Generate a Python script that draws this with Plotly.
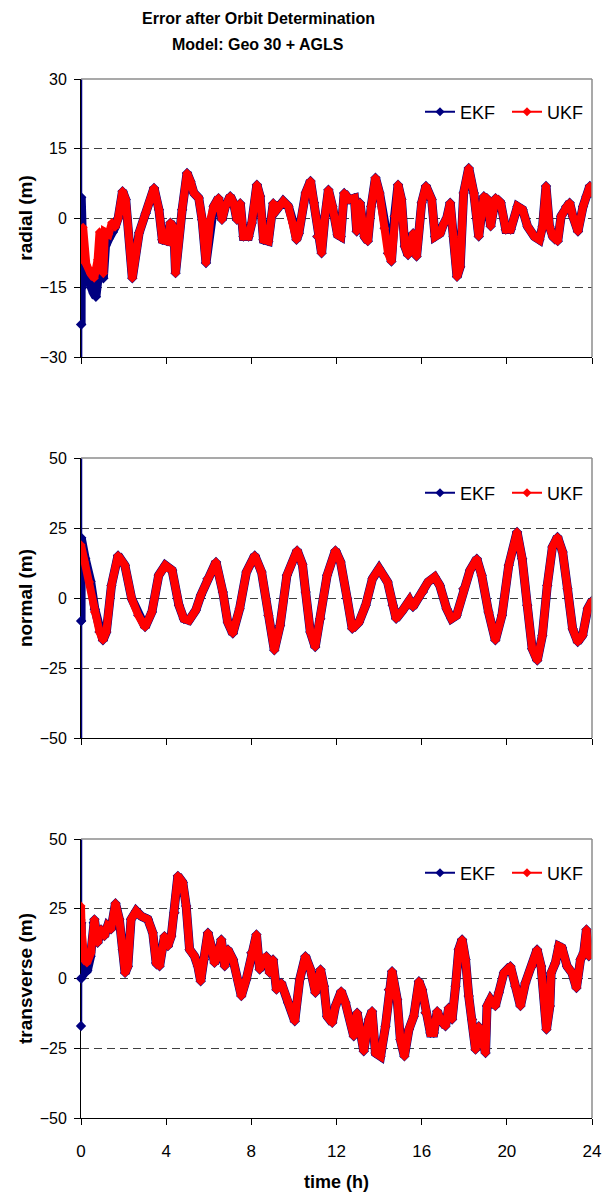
import plotly.graph_objects as go

# ---------------- data ----------------
time_ticks = [0, 4, 8, 12, 16, 20, 24]

# radial
t_radial = [0.0, 0.03, 0.1, 0.25, 0.45, 0.62, 0.78, 0.87, 0.95, 1.05, 1.12, 1.3, 1.45, 1.6, 1.75,
            1.95, 2.1, 2.41, 2.73, 3.04, 3.43, 3.66, 3.82, 4.05, 4.2, 4.36, 4.44, 4.75, 4.98, 5.14,
            5.3, 5.53, 5.69, 5.87, 6.07, 6.23, 6.46, 6.62, 6.78, 7.01, 7.17, 7.32, 7.48, 7.63, 7.87,
            8.02, 8.26, 8.41, 8.57, 8.8, 9.03, 9.19, 9.5, 9.74, 9.97, 10.12, 10.23, 10.55, 10.78,
            10.94, 11.1, 11.3, 11.46, 11.62, 11.81, 12.05, 12.2, 12.36, 12.6, 12.84, 12.95, 13.1,
            13.31, 13.47, 13.63, 13.83, 14.02, 14.26, 14.42, 14.58, 14.73, 14.89, 15.05, 15.21,
            15.36, 15.6, 15.76, 16.0, 16.2, 16.47, 16.63, 16.87, 17.02, 17.18, 17.34, 17.5, 17.66,
            17.81, 17.97, 18.21, 18.45, 18.68, 18.92, 19.08, 19.24, 19.47, 19.71, 19.95, 20.18,
            20.5, 20.74, 20.97, 21.29, 21.53, 21.68, 21.84, 22.0, 22.16, 22.39, 22.55, 22.79,
            22.95, 23.1, 23.34, 23.58, 23.74, 23.9, 24.0]
ukf_radial = [-4, -9, -2, -10, -12, -13, -9, -3, -10, -12, -3, -3.5, -1, -2, 0,
              5.8, 4, -13, -3.2, 1, 6.5, 1.8, -4.7, -5, -1, -2.2, -11.9, 1.8, 9.7, 7.9,
              5.4, 4.3, -0.4, -9.7, -0.4, 2.5, 4.3, -0.4, 2.5, 4.7, 3.2, -0.4, 3.2, -4, -4,
              -1.1, 7.2, 4.7, -4.7, -5, 3.2, 1.8, 3.6, 2.5, -1.1, -4.7, -3.3, 5.4, 8,
              3.3, -4, -7.6, 0.4, 6.1, 2.5, -3.6, -4, 5.4, 4, 4.3, -2.9, 3.3,
              -4, -5, 2.5, 8.7, 5.4, -2.2, -7.6, -9.4, 0.4, 7.2, 4, -6.1,
              -8, -3.3, -8.3, 3.3, 6.9, 4, -4, -3.3, -1.4, 0, 3.3, -4, -12.7,
              -10.5, 5.4, 10.8, 5.4, -4, 4.7, 4, -1.8, 4.3, 3.3, -2.5, -2.5,
              2.5, 1.8, -1.8, -4, -4.7, -1.8, 6.9, -1.8, -4, -5, 0.4, 2.5,
              3.3, 0.4, -2.9, 2.5, 4.7, 6.9, 5.4]
# EKF start-up transient (first values off scale), afterwards it follows the UKF values
t_radial_ekf_start = [0.0, 0.0, 0.005, 0.01, 0.05, 0.1, 0.2, 0.4, 0.59, 0.7, 0.8, 0.9, 1.05, 1.15, 1.3, 1.5]
ekf_radial_start = [60, -60, -23, 4.5, -15, -10, -13, -14, -16.2, -17, -13, -6, -13, -6, -4.5, -3]

# normal
t_normal = [0, 0.16, 0.4, 0.63, 0.87, 1.03, 1.19, 1.43, 1.74, 2.06, 2.38, 2.69, 3.01, 3.33, 3.65,
            3.96, 4.28, 4.6, 4.83, 5.07, 5.39, 5.63, 5.94, 6.34, 6.66, 6.89, 7.13, 7.45, 7.77,
            8.16, 8.48, 8.8, 9.08, 9.35, 9.67, 10.15, 10.4, 10.55, 10.77, 11.0, 11.24, 11.56,
            11.95, 12.19, 12.5, 12.74, 13.06, 13.37, 13.69, 14.0, 14.4, 14.64, 14.8, 15.11,
            15.43, 15.59, 15.82, 16.06, 16.3, 16.61, 16.85, 17.17, 17.4, 17.64, 17.96, 18.27,
            18.59, 18.82, 19.14, 19.46, 19.77, 20.09, 20.48, 20.72, 20.96, 21.19, 21.43, 21.67,
            21.9, 22.14, 22.38, 22.62, 22.85, 23.09, 23.33, 23.56, 23.8, 24.0]
ukf_normal = [19, 12.9, 5.7, -5, -12.1, -15.1, -12.1, 4.5, 15.2, 11.7, -0.2, -6.2, -10.4, -5, 8.1,
              11.7, 9.9, -2.6, -7.4, -8, -4.4, 1, 6.9, 12.9, 2.1, -8.6, -12.7, -3.8, 9.3,
              15.2, 9.3, -6.2, -18.7, -9.8, 8.1, 17, 12, 2.1, -12.1, -17.5, -7.4, 8.1,
              17, 12.9, -0.2, -11, -8.6, -2.6, 6.9, 10.5, 5.7, -2.6, -7.4, -4.4,
              -0.8, -3.2, -0.2, 2.1, 5.7, 7.5, 4.5, -3.8, -7.4, -6.2, 3.3, 9.9,
              14, 8.1, -5, -15.1, -6.2, 11.7, 23.6, 14, -2.6, -18.1, -22.3, -13.3,
              4.5, 18.2, 21.8, 16.4, 3.3, -11, -15.7, -13.3, -3.8, -1]
t_normal_ekf_start = [0.0, 0.0, 0.003, 0.006, 0.01, 0.2, 0.45, 0.65]
ekf_normal_start = [80, -80, -8.2, 11, 21.5, 14, 6, -4]

# transverse
t_transverse = [0, 0.01, 0.03, 0.16, 0.28, 0.47, 0.63, 0.78, 0.94, 1.1, 1.25, 1.41, 1.62, 1.8,
                1.96, 2.07, 2.2, 2.35, 2.59, 2.82, 3.14, 3.37, 3.53, 3.69, 3.92, 4.08, 4.24,
                4.39, 4.55, 4.78, 4.94, 5.1, 5.33, 5.49, 5.62, 5.77, 5.96, 6.12, 6.27, 6.43,
                6.59, 6.75, 6.9, 7.14, 7.37, 7.53, 7.76, 8.0, 8.24, 8.39, 8.55, 8.71, 8.86,
                9.02, 9.18, 9.41, 9.73, 10.04, 10.27, 10.54, 10.78, 11.01, 11.25, 11.41, 11.56,
                11.8, 11.95, 12.22, 12.42, 12.66, 12.81, 12.97, 13.13, 13.28, 13.52, 13.67,
                13.83, 14.07, 14.3, 14.46, 14.61, 14.85, 15.0, 15.19, 15.4, 15.63, 15.87, 16.02,
                16.18, 16.41, 16.57, 16.73, 16.88, 17.12, 17.27, 17.43, 17.59, 17.74, 17.9,
                18.06, 18.21, 18.37, 18.53, 18.68, 18.84, 19.0, 19.07, 19.23, 19.46, 19.62,
                19.86, 20.17, 20.4, 20.64, 20.87, 21.19, 21.42, 21.61, 21.86, 22.02, 22.08,
                22.28, 22.44, 22.59, 22.83, 23.06, 23.27, 23.46, 23.61, 23.74, 23.85, 24.0]
ukf_transverse = [26, 21, 17, 6.8, 5.6, 9.2, 21.2, 12.8, 17.6, 15.2, 18.8, 17.6, 27, 21.2,
                  10.4, 2, 4.4, 21.2, 24.2, 22.4, 21.2, 16.4, 5.6, 4.4, 15.2, 11.6, 15.2,
                  23.6, 36.8, 34.4, 26, 10.4, 8, 4.4, -1, 6.8, 16.4, 11.6, 5.6, 8,
                  14, 4.4, 10.4, 6.8, -0.4, -6.3, -0.4, 9.2, 15.8, 3.2, 6.8, 8, 2,
                  6.8, -4, -1.6, -8.7, -15.3, -0.4, 8, 3.2, -5.1, 3.2, -2.8, -13.5,
                  -15.9, -9.9, -4.6, -8.7, -14.7, -20.7, -12.3, -19.5, -26.1, -14.7, -11.7,
                  -26.7, -27.9, -17.1, -4, 2.6, -7.5, -21.9, -27.9, -18.3, -13.5, -1, -4,
                  -12.3, -19.5, -19.5, -11.7, -14.7, -17.1, -10.5, -14.7, -2.8, 10.4, 14,
                  6.8, -6.3, -14.7, -25.5, -17.1, -21.9, -26.7, -9.9, -7.5, -9.9, -5.1,
                  2, 4.4, -2.8, -9.9, -1.6, 4.4, 10.4, 4.4, -18.3, -9.9, 2,
                  5.6, 11.6, 11, 4.4, 2, -3.4, 6.8, 9.2, 17.6, 8, 9.2]
t_transverse_ekf_start = [0.0, 0.0, 0.003, 0.01, 0.05, 0.15, 0.3, 0.45, 0.6]
ekf_transverse_start = [80, -17, 0, 20, 1, 2, 3, 8, 20]

panels = [
    dict(name="radial (m)", t=t_radial, ukf=ukf_radial, te=t_radial_ekf_start, ee=ekf_radial_start,
         yrange=[-30, 30], yticks=[-30, -15, 0, 15, 30]),
    dict(name="normal (m)", t=t_normal, ukf=ukf_normal, te=t_normal_ekf_start, ee=ekf_normal_start,
         yrange=[-50, 50], yticks=[-50, -25, 0, 25, 50]),
    dict(name="transverse (m)", t=t_transverse, ukf=ukf_transverse, te=t_transverse_ekf_start,
         ee=ekf_transverse_start, yrange=[-50, 50], yticks=[-50, -25, 0, 25, 50]),
]

# ---------------- style ----------------
EKF_COLOR = "#000080"
UKF_COLOR = "#FF0000"
FONT = "Liberation Sans, Arial, sans-serif"

# the page body has an 8px margin: figure coords = page coords - 8
OFF = 8
W, H = 610 - OFF, 1192 - OFF
L, T = 81 - OFF, 79 - OFF
R = W - (592 - OFF)
B = H - (1118 - OFF)
plot_h = H - T - B
panel_px = [(79 - OFF, 357 - OFF), (458 - OFF, 738 - OFF), (839 - OFF, 1118 - OFF)]
domains = [[(H - B - b) / plot_h, (H - B - t) / plot_h] for (t, b) in panel_px]
domains = [[max(0.0, d[0]), min(1.0, d[1])] for d in domains]
legend_y_px = [112 - OFF, 493 - OFF, 873 - OFF]

fig = go.Figure()
layout = dict(
    width=W, height=H,
    margin=dict(l=L, r=R, t=T, b=B, autoexpand=False),
    paper_bgcolor="white", plot_bgcolor="white",
    font=dict(family=FONT, color="black", size=16),
    showlegend=True,
    shapes=[],
    annotations=[
        dict(text="Error after Orbit Determination", xref="paper", yref="paper",
             x=(258 - 81) / (592 - 81), y=1 + (79 - 19) / plot_h, xanchor="center", yanchor="middle",
             showarrow=False, font=dict(family=FONT, size=16, weight="bold")),
        dict(text="Model: Geo 30 + AGLS", xref="paper", yref="paper",
             x=(258 - 81) / (592 - 81), y=1 + (79 - 44) / plot_h, xanchor="center", yanchor="middle",
             showarrow=False, font=dict(family=FONT, size=16, weight="bold")),
    ],
)

for i, p in enumerate(panels):
    k = "" if i == 0 else str(i + 1)
    xa, ya = "x" + k, "y" + k
    leg = "legend" + k
    # EKF series: off-scale start-up spike (thin), then the band that follows the UKF values
    cut = p["te"][-1]
    ekf_t = p["te"][2:] + [tt for tt in p["t"] if tt > cut]
    ekf_v = p["ee"][2:] + [v for tt, v in zip(p["t"], p["ukf"]) if tt > cut]
    fig.add_trace(go.Scatter(x=p["te"][:3], y=p["ee"][:3], mode="lines+markers", xaxis=xa, yaxis=ya,
                             line=dict(color=EKF_COLOR, width=2.5),
                             marker=dict(symbol="diamond", size=8, color=EKF_COLOR),
                             cliponaxis=False, showlegend=False, hoverinfo="skip"))
    fig.add_trace(go.Scatter(x=ekf_t, y=ekf_v, mode="lines+markers", xaxis=xa, yaxis=ya,
                             line=dict(color=EKF_COLOR, width=9),
                             marker=dict(symbol="diamond", size=8, color=EKF_COLOR),
                             showlegend=False, hoverinfo="skip"))
    fig.add_trace(go.Scatter(x=p["t"], y=p["ukf"], mode="lines+markers", xaxis=xa, yaxis=ya,
                             line=dict(color=UKF_COLOR, width=8),
                             marker=dict(symbol="diamond", size=7, color=UKF_COLOR),
                             showlegend=False, hoverinfo="skip"))
    # legend entries
    for nm, col in (("EKF", EKF_COLOR), ("UKF", UKF_COLOR)):
        fig.add_trace(go.Scatter(x=[None], y=[None], mode="lines+markers", name=nm,
                                 xaxis=xa, yaxis=ya, legend=leg,
                                 line=dict(color=col, width=2),
                                 marker=dict(symbol="diamond", size=7, color=col)))
    layout[leg] = dict(orientation="h", x=(594 - 81) / 511, xanchor="right",
                       y=(H - B - legend_y_px[i]) / plot_h, yanchor="middle",
                       bgcolor="rgba(0,0,0,0)", font=dict(family=FONT, size=18),
                       itemwidth=30, tracegroupgap=0, entrywidth=42, entrywidthmode="pixels")
    layout["xaxis" + k] = dict(
        domain=[0, 1], anchor=ya, range=[0, 24], tickvals=time_ticks,
        showticklabels=(i == 2), ticks="outside", ticklen=6, tickcolor="black",
        showline=True, linecolor="black", linewidth=1, showgrid=False, zeroline=False,
        ticklabelstandoff=12, tickfont=dict(size=17), layer="below traces",
        title=dict(text="time (h)" if i == 2 else "", standoff=14,
                   font=dict(size=18, weight="bold")),
    )
    layout["yaxis" + k] = dict(
        domain=domains[i], anchor=xa, range=p["yrange"], tickvals=p["yticks"],
        ticks="outside", ticklen=6, tickcolor="black",
        showline=True, linecolor="black", linewidth=1, layer="below traces",
        showgrid=True, gridcolor="#404040", gridwidth=1, griddash="8px,5px", zeroline=False,
        tickfont=dict(size=16), ticklabelstandoff=4,
        title=dict(text=p["name"], standoff=2, font=dict(size=19, weight="bold")),
    )
    # gray frame on top and right side of each plot area
    layout["shapes"] += [
        dict(type="line", xref=xa + " domain", yref=ya + " domain", x0=0, x1=1, y0=1, y1=1,
             line=dict(color="#8c8c8c", width=1.5), layer="above"),
        dict(type="line", xref=xa + " domain", yref=ya + " domain", x0=1, x1=1, y0=0, y1=1,
             line=dict(color="#8c8c8c", width=1.5), layer="above"),
    ]

fig.update_layout(**layout)
fig.write_html("out.html")
